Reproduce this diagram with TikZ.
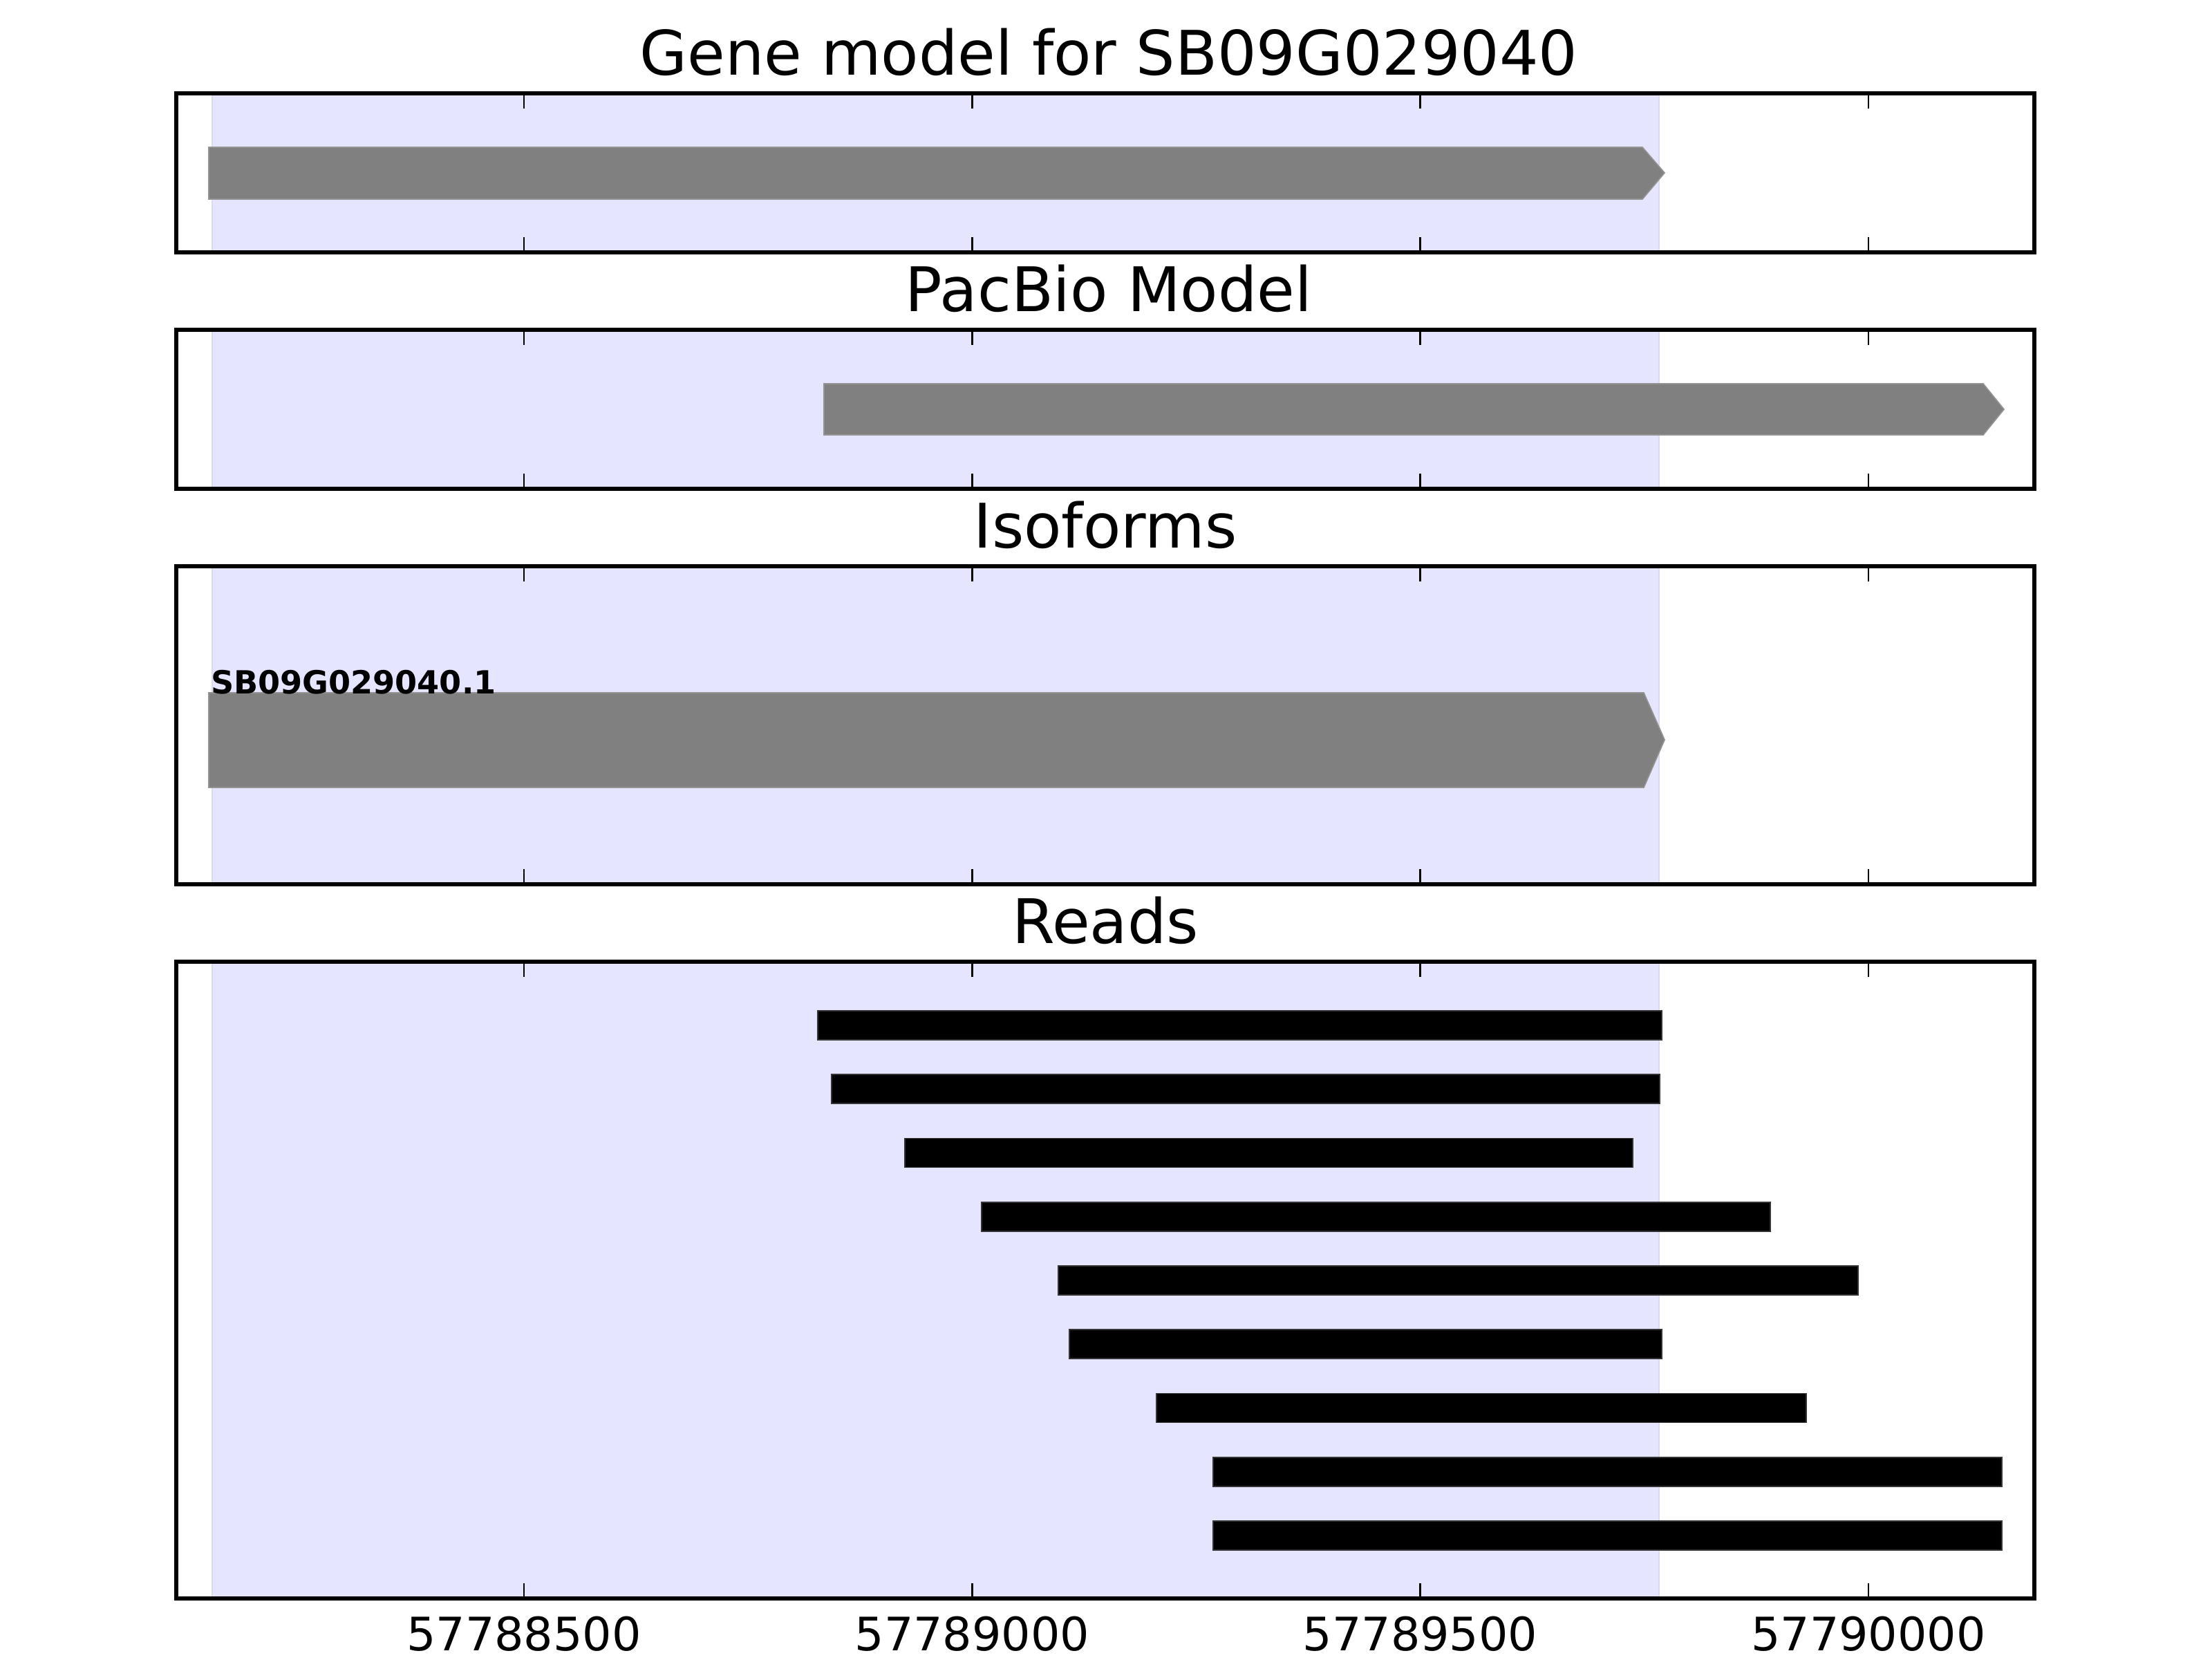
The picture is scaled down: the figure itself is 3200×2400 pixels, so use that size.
\documentclass[tikz,border=0pt]{standalone}
\usepackage{fontspec}
\setmainfont{DejaVu Sans}
\definecolor{shadeblue}{RGB}{229,229,255}
\definecolor{shadeedge}{RGB}{218,218,238}
\definecolor{genegray}{RGB}{128,128,128}
\begin{document}
\begin{tikzpicture}[x=0.18pt,y=-0.18pt,
  frame/.style={line width=1pt,draw=black},
  tickmark/.style={line width=0.5pt,draw=black},
  shade/.style={fill=shadeblue,draw=shadeedge,line width=0.4pt},
  genebar/.style={fill=genegray,draw=genegray!85!white,line width=0.3pt},
  readbar/.style={fill=black,draw=black!80,line width=0.3pt},
  titletext/.style={anchor=base,inner sep=0pt,font=\fontsize{16}{19}\selectfont},
  ticklabel/.style={anchor=base,inner sep=0pt,font=\fontsize{12}{14}\selectfont},
  isolabel/.style={anchor=base west,inner sep=0pt,font=\fontsize{8.3}{10}\selectfont\bfseries}]
\useasboundingbox (0,0) rectangle (3200,2400);
\fill[white] (0,0) rectangle (3200,2400);

% shaded regions
\foreach \t/\b in {135/365,477/707,819/1279,1391/2312}{
  \draw[shade] (307,\t) rectangle (2400,\b);
}

% gene model
\draw[genebar] (302,213) -- (2376,213) -- (2408,250) -- (2376,288) -- (302,288) -- cycle;
% pacbio model
\draw[genebar] (1192,555) -- (2869,555) -- (2899,592) -- (2869,629) -- (1192,629) -- cycle;
% isoform
\draw[genebar] (302,1002) -- (2378,1002) -- (2408,1070) -- (2378,1139) -- (302,1139) -- cycle;
\node[isolabel] (iso) at (304,1003) {SB09G029040.1};

% reads
\foreach \xa/\xb [count=\i from 0] in {1183/2404,1203/2401,1309/2362,1420/2561,1531/2688,1547/2404,1673/2613,1755/2896,1755/2896}{
  \pgfmathsetmacro{\yc}{1483+\i*92.25}
  \draw[readbar] (\xa,\yc-21) rectangle (\xb,\yc+21);
}

% frames and ticks
\foreach \t/\b in {135/365,477/707,819/1279,1391/2312}{
  \foreach \tx in {758,1406.3,2054.6,2702.9}{
    \draw[tickmark] (\tx,\t) -- ++(0,22);
    \draw[tickmark] (\tx,\b) -- ++(0,-22);
  }
  \draw[frame] (255,\t) rectangle (2943,\b);
}

% titles
\node[titletext] (t1) at (1604,108) {Gene model for SB09G029040};
\node[titletext] (t2) at (1604,450) {PacBio Model};
\node[titletext] (t3) at (1599,792) {Isoforms};
\node[titletext] (t4) at (1599,1364) {Reads};

% tick labels
\node[ticklabel] (l1) at (758,2387) {57788500};
\node[ticklabel] (l2) at (1406.3,2387) {57789000};
\node[ticklabel] (l3) at (2054.6,2387) {57789500};
\node[ticklabel] (l4) at (2702.9,2387) {57790000};
\end{tikzpicture}
\end{document}
